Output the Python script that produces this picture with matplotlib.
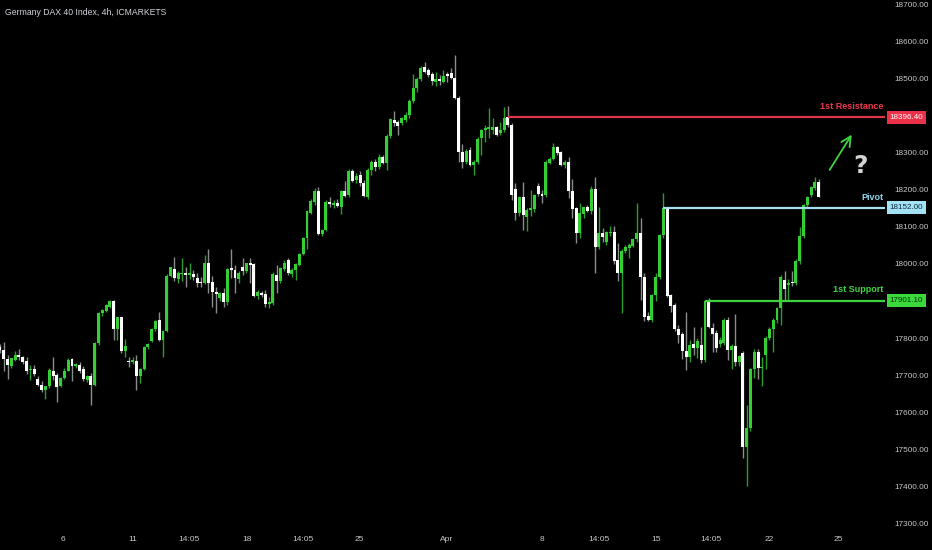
import matplotlib
matplotlib.use("Agg")
import matplotlib.pyplot as plt
import matplotlib.transforms as mtransforms
import numpy as np

# ---------------- data ----------------
opens = [17777,17768,17743,17725,17741,17754,17748,17739,17714,17716,
         17689,17674,17660,17671,17712,17700,17671,17692,17712,17743,
         17725,17727,17716,17687,17696,17674,17786,17867,17874,17885,
         17899,17824,17856,17764,17739,17736,17739,17696,17716,17775,
         17793,17824,17849,17795,17818,17968,17986,17959,17973,17975,
         17971,17973,17963,17952,17948,18004,17952,17925,17907,17921,
         17896,17988,17984,17959,17991,17980,18002,18000,17914,17921,
         17919,17892,17894,17970,17955,17986,18011,17973,17984,17997,
         18027,18069,18139,18168,18198,18081,18092,18168,18160,18166,
         18155,18198,18187,18250,18228,18241,18220,18180,18255,18275,
         18263,18288,18273,18345,18390,18385,18380,18390,18403,18441,
         18475,18500,18533,18524,18513,18493,18499,18493,18513,18515,
         18502,18448,18304,18277,18308,18268,18275,18340,18362,18365,
         18363,18369,18353,18362,18396,18376,18202,18137,18180,18128,
         18146,18148,18211,18187,18187,18274,18283,18315,18303,18268,
         18277,18196,18150,18085,18135,18153,18142,18202,18047,18085,
         18060,18083,18087,18011,17975,18036,18042,18049,18067,18083,
         17966,17860,17849,17917,17966,18078,18152,17916,17890,17824,
         17811,17766,17748,17784,17772,17781,17741,17899,17826,17813,
         17784,17786,17849,17768,17779,17734,17759,17505,17556,17716,
         17763,17718,17754,17800,17824,17849,17880,17957,17942,17950,
         17948,18009,18076,18160,18186,18205,18222]
highs = [17785,17790,17754,17745,17766,17770,17752,17750,17727,17727,
         17698,17683,17671,17718,17748,17706,17694,17718,17745,17745,
         17732,17734,17723,17700,17705,17790,17870,17878,17893,17903,
         17903,17858,17858,17797,17750,17750,17755,17718,17778,17786,
         17826,17849,17869,17822,17972,17993,18018,17980,18016,17993,
         18004,17984,17977,17966,18024,18040,17968,17939,17923,17934,
         17990,18040,17997,17980,18016,18004,18016,18002,17930,17928,
         17930,17910,17978,17997,17993,18010,18016,17990,18002,18030,
         18072,18146,18175,18205,18207,18095,18172,18180,18172,18176,
         18200,18225,18256,18257,18245,18250,18226,18260,18280,18283,
         18297,18295,18350,18395,18414,18390,18398,18410,18445,18513,
         18505,18535,18545,18530,18520,18520,18510,18525,18520,18530,
         18565,18455,18324,18310,18315,18280,18343,18365,18376,18421,
         18394,18372,18385,18425,18427,18380,18218,18185,18222,18150,
         18200,18190,18218,18200,18280,18290,18328,18320,18306,18280,
         18288,18231,18155,18164,18155,18160,18210,18236,18155,18097,
         18090,18103,18103,18056,18040,18050,18056,18070,18164,18124,
         17977,17870,17920,17975,18082,18191,18155,17920,17895,17836,
         17815,17869,17795,17831,17800,17831,17903,17907,17840,17822,
         17804,17855,17858,17785,17865,17755,17765,17620,17720,17770,
         17770,17750,17805,17830,17855,17885,17970,17980,17960,17980,
         18014,18100,18163,18185,18212,18234,18230]
lows = [17760,17712,17689,17720,17738,17741,17730,17703,17687,17696,
        17669,17655,17635,17665,17687,17626,17668,17690,17710,17683,
        17718,17705,17683,17680,17620,17670,17780,17860,17870,17880,
        17795,17795,17760,17750,17721,17730,17660,17678,17714,17770,
        17790,17820,17793,17748,17815,17965,17955,17950,17953,17939,
        17959,17957,17939,17939,17945,17921,17885,17867,17900,17885,
        17890,17961,17921,17950,17970,17975,17948,17912,17905,17912,
        17885,17880,17890,17921,17948,17982,17970,17965,17957,17994,
        18024,18040,18135,18160,18078,18075,18088,18155,18150,18153,
        18135,18180,18180,18221,18220,18210,18180,18175,18240,18250,
        18258,18270,18255,18340,18372,18349,18375,18385,18395,18435,
        18465,18495,18515,18505,18484,18480,18485,18488,18493,18500,
        18445,18277,18259,18270,18265,18241,18270,18295,18331,18340,
        18350,18345,18348,18358,18370,18173,18119,18130,18092,18088,
        18130,18140,18185,18164,18180,18270,18280,18295,18265,18260,
        18178,18124,18058,18070,18125,18140,18135,17975,18040,18060,
        18050,18075,18000,17953,17867,18030,18015,18045,18060,17903,
        17845,17845,17843,17900,17960,18070,17911,17870,17820,17786,
        17743,17714,17735,17755,17745,17732,17735,17826,17761,17763,
        17775,17780,17741,17716,17723,17725,17476,17401,17550,17692,
        17688,17670,17715,17795,17763,17840,17836,17903,17902,17940,
        17943,18000,18070,18150,18180,18200,18180]
closes = [17768,17743,17727,17745,17754,17750,17736,17710,17716,17703,
          17674,17659,17671,17714,17698,17667,17692,17712,17741,17725,
          17730,17710,17689,17696,17674,17786,17867,17876,17890,17901,
          17824,17856,17764,17779,17736,17741,17696,17716,17775,17784,
          17824,17847,17795,17820,17968,17991,17962,17977,17977,17971,
          17975,17966,17950,17948,18004,17950,17923,17919,17921,17896,
          17986,17984,17961,17977,17980,18002,17997,17914,17923,17917,
          17892,17898,17973,17955,17988,18004,17975,17984,18000,18027,
          18069,18143,18171,18198,18081,18092,18168,18162,18164,18156,
          18198,18185,18250,18225,18237,18219,18185,18255,18275,18261,
          18290,18273,18345,18391,18382,18373,18394,18403,18441,18475,
          18500,18531,18520,18511,18495,18499,18495,18507,18509,18502,
          18448,18302,18277,18306,18268,18275,18338,18362,18367,18369,
          18369,18349,18362,18394,18376,18187,18137,18180,18132,18146,
          18150,18187,18189,18185,18276,18283,18317,18299,18268,18277,
          18196,18148,18085,18137,18153,18142,18202,18047,18083,18072,
          18087,18087,18007,17975,18036,18047,18051,18067,18083,17966,
          17858,17849,17917,17966,18078,18152,17914,17887,17824,17809,
          17764,17748,17781,17772,17791,17741,17901.1,17829,17811,17773,
          17795,17849,17768,17779,17734,17752,17505,17556,17716,17763,
          17719,17720,17800,17824,17849,17880,17964,17932,17948,17948,
          18009,18076,18160,18180,18207,18222,18182]

tick_labels = ["6", "11", "14:05", "18", "14:05", "25", "Apr", "8",
               "14:05", "15", "14:05", "22", "25"]
tick_pos = [16.6, 35.1, 49.9, 65.2, 79.9, 94.7, 117.7, 143.0,
            158.0, 173.1, 187.6, 202.9, 221.1]

level_names = ["1st Resistance", "Pivot", "1st Support"]
level_values = [18396.40, 18152.00, 17901.10]
level_start = [134, 175, 186]

# price labels shown on the scale (18400 and 17900 are hidden by the tags)
price_ticks = [17300, 17400, 17500, 17600, 17700, 17800, 18000,
               18100, 18200, 18300, 18500, 18600, 18700]

# ---------------- style ----------------
BG = "#000000"
UP = "#34cf34"
DOWN = "#ffffff"
UP_WICK = "#2a9e2a"
DOWN_WICK = "#8c8c8c"
AXIS_TXT = "#c8c8c8"
FONT = ["Liberation Sans", "DejaVu Sans"]
level_line_colors = ["#e0364c", "#a7e0f4", "#3fd43f"]
level_text_colors = ["#f0384f", "#8fd6ef", "#3fd43f"]
tag_bg = ["#ea3148", "#a3e1f5", "#3ad83a"]
tag_fg = ["#ffffff", "#0b2a3a", "#06300a"]

fig = plt.figure(figsize=(9.32, 5.5), dpi=100, facecolor=BG)
ax = fig.add_axes([0.0, 0.04, 0.9496, 0.96])
ax.set_facecolor(BG)

o = np.array(opens, float)
h = np.array(highs, float)
l = np.array(lows, float)
c = np.array(closes, float)
x = np.arange(len(o))
up = c >= o

# wicks
ax.vlines(x[up], l[up], h[up], color=UP_WICK, linewidth=1.0, zorder=2)
ax.vlines(x[~up], l[~up], h[~up], color=DOWN_WICK, linewidth=1.0, zorder=2)
# bodies
body_h = np.maximum(np.abs(c - o), 3.0)
body_b = np.minimum(o, c)
ax.bar(x[up], body_h[up], bottom=body_b[up], width=0.78, color=UP,
       edgecolor="none", zorder=3)
ax.bar(x[~up], body_h[~up], bottom=body_b[~up], width=0.78, color=DOWN,
       edgecolor="none", zorder=3)

xmax = 233.5
ax.set_xlim(0, xmax)
ax.set_ylim(17286.5, 18713.5)

# levels
trans_tag = mtransforms.blended_transform_factory(ax.transAxes, ax.transData)
for name, val, st, lc, tc, bg, fg in zip(level_names, level_values, level_start,
                                         level_line_colors, level_text_colors,
                                         tag_bg, tag_fg):
    ax.hlines(val, st, xmax, color=lc, linewidth=1.6, zorder=4)
    ax.annotate(name, xy=(xmax - 0.4, val), xytext=(0, 4.5),
                textcoords="offset points", ha="right", va="bottom",
                color=tc, fontsize=6.5, family=FONT, fontweight="bold",
                zorder=5)
    ax.text(1.0055, val, f"{val:.2f}", transform=trans_tag, ha="left",
            va="center", fontsize=5.8, family=FONT, color=fg,
            bbox=dict(boxstyle="square,pad=0.35", fc=bg, ec="none"),
            clip_on=False, zorder=6)

# arrow and question mark
ax.annotate("", xy=(225.1, 18356), xytext=(218.5, 18248),
            arrowprops=dict(arrowstyle="->,head_length=0.7,head_width=0.35",
                            color="#3fd43f", lw=1.3), zorder=6)
ax.text(227.0, 18265, "?", color="#d4d4d4", fontsize=18, fontweight="bold",
        ha="center", va="center", family="DejaVu Sans", zorder=6)

# axes styling
for s in ax.spines.values():
    s.set_visible(False)
ax.yaxis.tick_right()
ax.set_yticks(price_ticks)
ax.set_yticklabels([f"{p:.2f}" for p in price_ticks])
ax.set_xticks(tick_pos)
ax.set_xticklabels(tick_labels)
ax.tick_params(axis="both", length=0, colors=AXIS_TXT)
ax.tick_params(axis="y", pad=7, labelsize=5.9)
ax.tick_params(axis="x", pad=6, labelsize=6.0)
for lab in ax.get_xticklabels() + ax.get_yticklabels():
    lab.set_family(FONT)

fig.text(0.0055, 0.978, "Germany DAX 40 Index, 4h, ICMARKETS", color="#d1d4dc",
         fontsize=6.2, family=FONT, ha="left", va="center")

fig.savefig("out.png", dpi=100, facecolor=BG)
